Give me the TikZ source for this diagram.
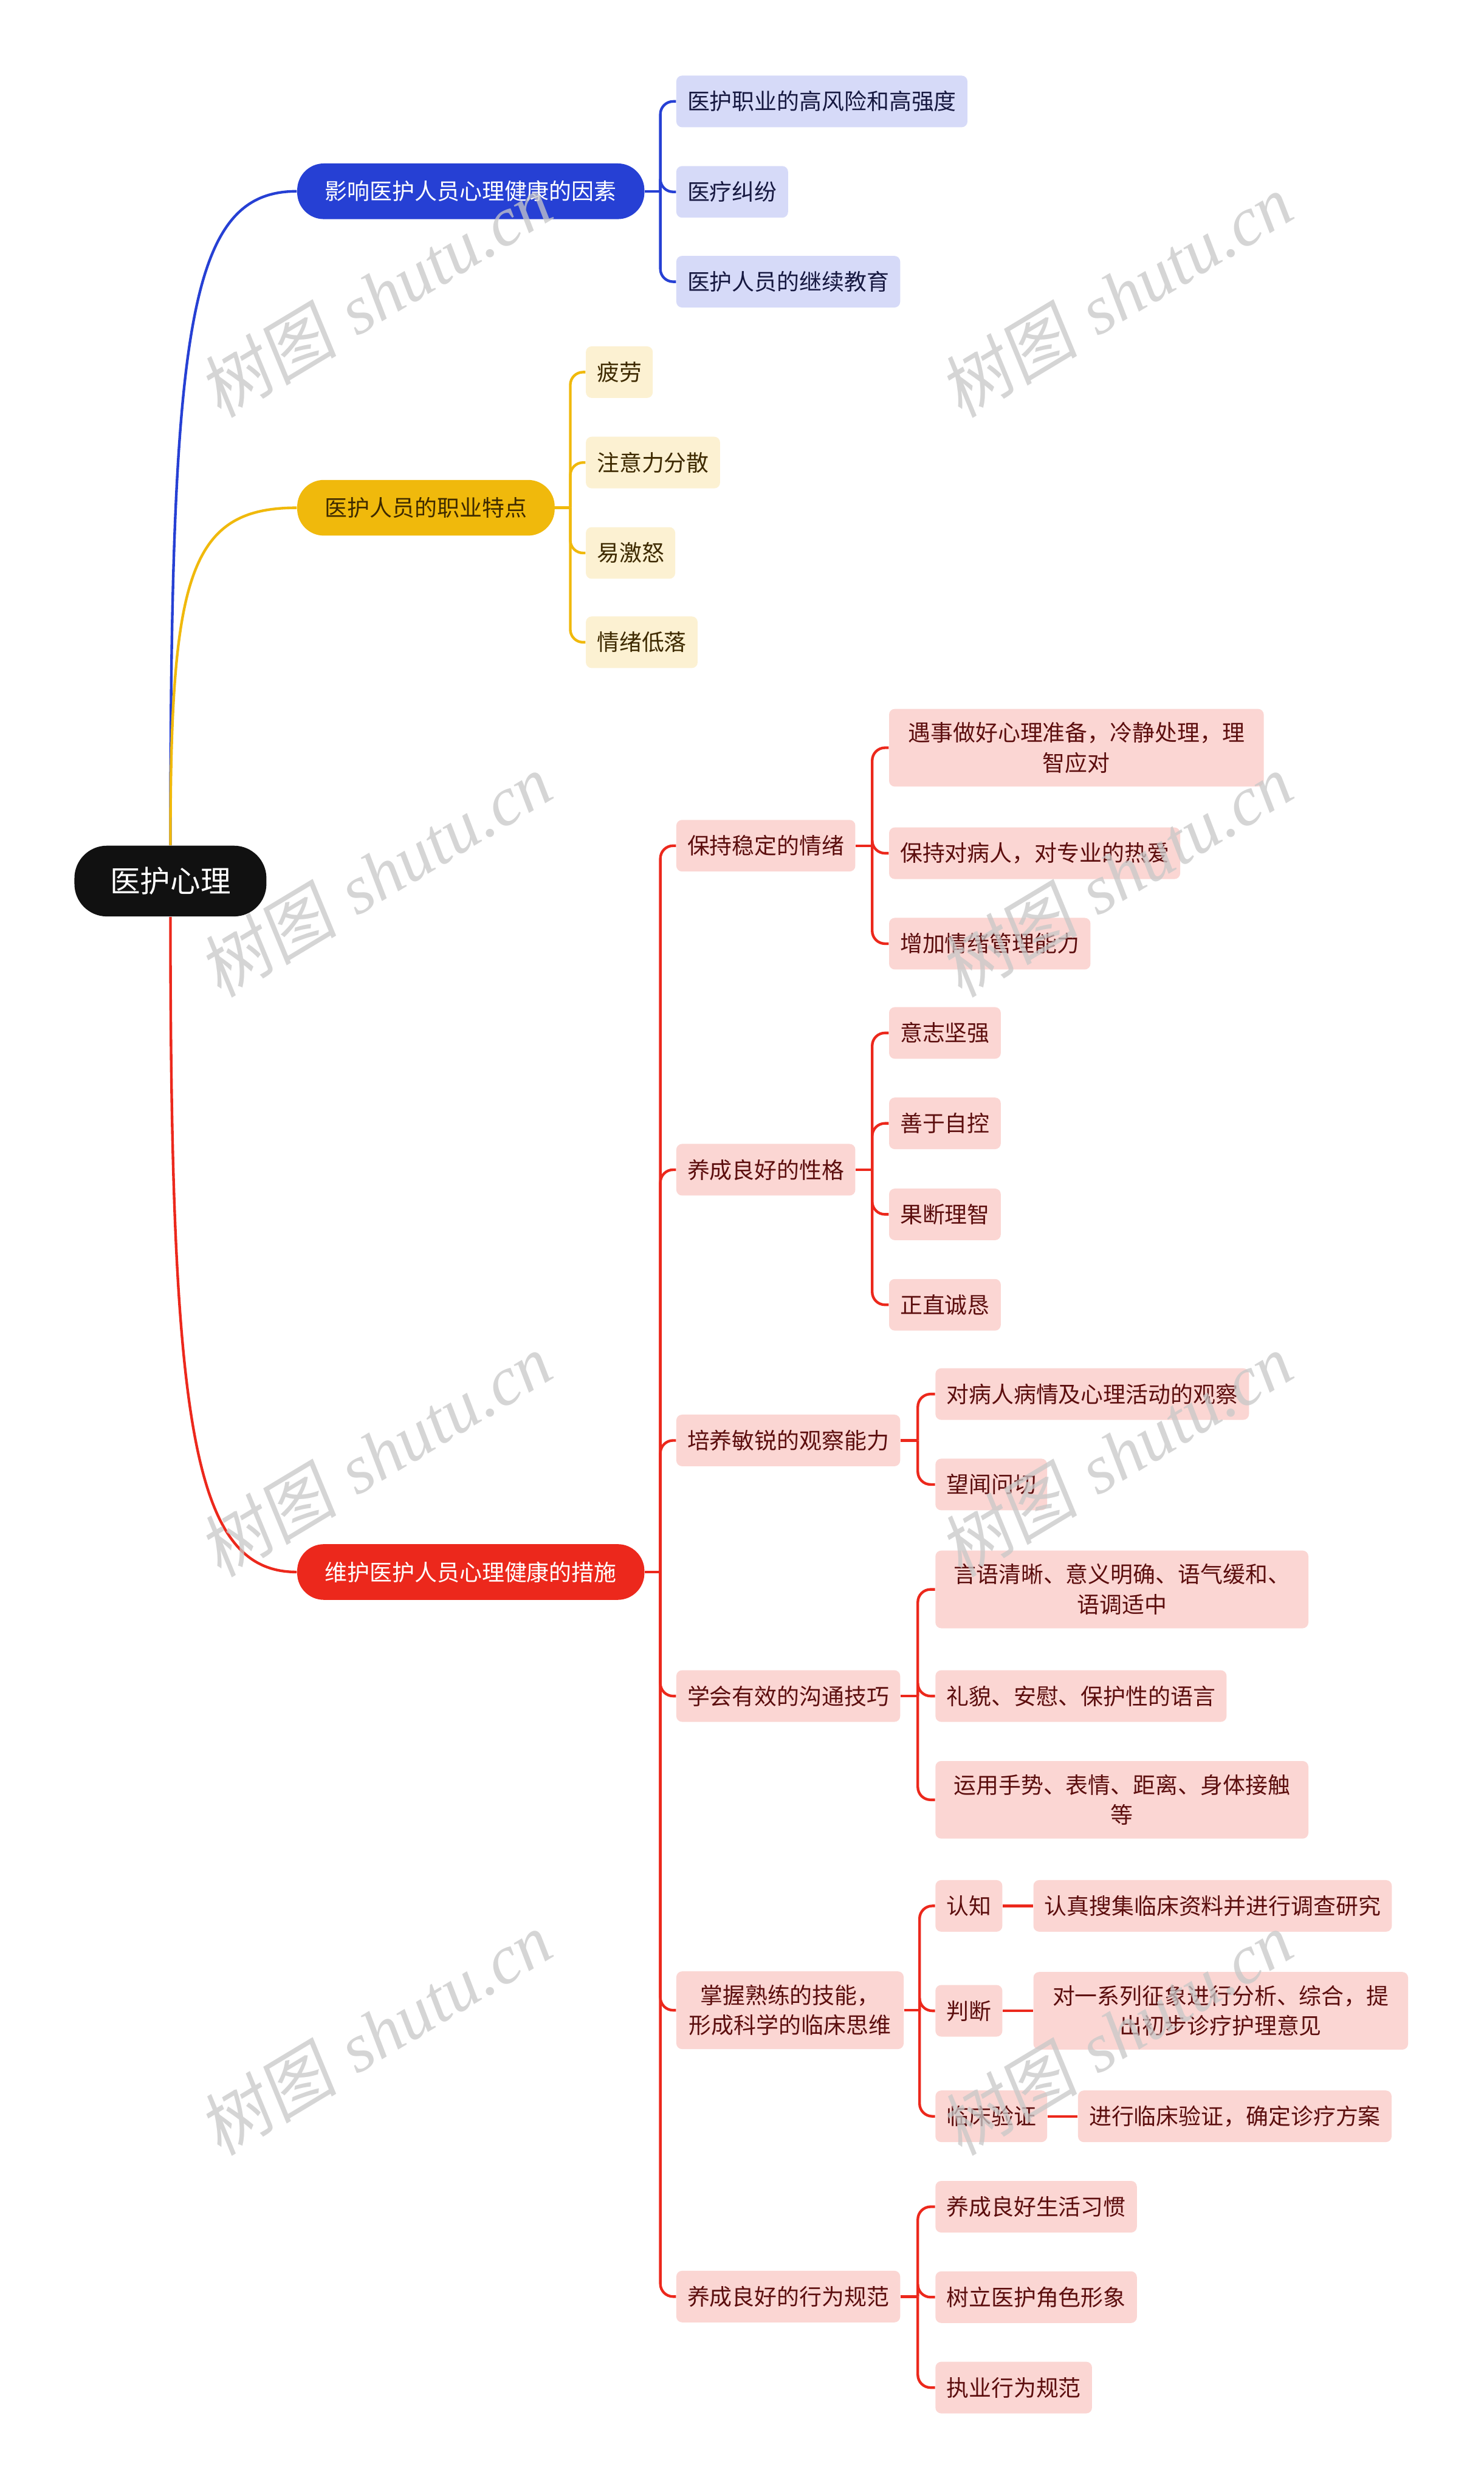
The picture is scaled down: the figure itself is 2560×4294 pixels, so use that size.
\documentclass[tikz,border=0pt]{standalone}
\usepackage{fontspec}
\newfontfamily\cjk{Noto Sans CJK SC}
\newfontfamily\wmcjk[FakeSlant=0.15]{Noto Sans CJK SC}
\newfontfamily\wmlat{Liberation Serif}
\usetikzlibrary{calc}
\definecolor{blueM}{RGB}{38,64,212}
\definecolor{blueF}{RGB}{214,218,248}
\definecolor{blueT}{RGB}{22,24,64}
\definecolor{yelM}{RGB}{240,185,12}
\definecolor{yelF}{RGB}{252,241,210}
\definecolor{yelT}{RGB}{62,42,0}
\definecolor{redM}{RGB}{236,40,28}
\definecolor{redF}{RGB}{251,214,211}
\definecolor{redT}{RGB}{92,14,14}
\definecolor{rootF}{RGB}{17,17,17}
\definecolor{wmgray}{RGB}{200,200,200}
\newcommand\mmlink[3]{%
  \draw[#1] (#2.east) -- ($(#2.east)!0.5!(#2.east -| #3.west)$);
  \draw[#1, rounded corners=0.22cm] ($(#2.east)!0.5!(#2.east -| #3.west)$) |- (#3.west);}
\begin{document}
\begin{tikzpicture}[x=0.01cm,y=-0.01cm,
  mmbase/.style={font=\cjk\fontsize{11pt}{14.8pt}\selectfont, inner xsep=0.19cm, inner ysep=0.23cm,
    minimum height=0.89cm, rounded corners=0.1cm, anchor=west, align=center},
  cblue/.style={mmbase, fill=blueF, text=blueT},
  cyel/.style={mmbase, fill=yelF, text=yelT},
  cred/.style={mmbase, fill=redF, text=redT},
  lone/.style={mmbase, inner xsep=0.48cm, minimum height=0.96cm, rounded corners=0.46cm},
  l1blue/.style={lone, fill=blueM, text=white},
  l1yel/.style={lone, fill=yelM, text=yelT},
  l1red/.style={lone, fill=redM, text=white},
  rootn/.style={font=\cjk\fontsize{14.8pt}{18pt}\selectfont, fill=rootF, text=white,
    minimum width=3.31cm, minimum height=1.22cm, rounded corners=0.56cm},
  blueL/.style={draw=blueM, line width=1.3pt},
  yelL/.style={draw=yelM, line width=1.3pt},
  redL/.style={draw=redM, line width=1.3pt},
  wm/.style={text=wmgray, opacity=0.75, rotate=31, font=\fontsize{34pt}{34pt}\selectfont}]
\useasboundingbox[fill=white] (0,0) rectangle (2560,4294);

% nodes
\node[rootn] (root) at (294,1520) {医护心理};
\node[l1blue] (B0) at (512,330) {影响医护人员心理健康的因素};
\node[cblue] (B1) at (1166,175) {医护职业的高风险和高强度};
\node[cblue] (B2) at (1166,331) {医疗纠纷};
\node[cblue] (B3) at (1166,486) {医护人员的继续教育};
\node[l1yel] (Y0) at (512,876) {医护人员的职业特点};
\node[cyel] (Y1) at (1010,642) {疲劳};
\node[cyel] (Y2) at (1010,798) {注意力分散};
\node[cyel] (Y3) at (1010,954) {易激怒};
\node[cyel] (Y4) at (1010,1108) {情绪低落};
\node[l1red] (R0) at (512,2712) {维护医护人员心理健康的措施};
\node[cred] (R1) at (1166,1459) {保持稳定的情绪};
\node[cred, text width=6.08cm] (R11) at (1533,1290) {遇事做好心理准备，冷静处理，理\\智应对};
\node[cred] (R12) at (1533,1472) {保持对病人，对专业的热爱};
\node[cred] (R13) at (1533,1628) {增加情绪管理能力};
\node[cred] (R2) at (1166,2018) {养成良好的性格};
\node[cred] (R21) at (1533,1782) {意志坚强};
\node[cred] (R22) at (1533,1938) {善于自控};
\node[cred] (R23) at (1533,2095) {果断理智};
\node[cred] (R24) at (1533,2251) {正直诚恳};
\node[cred] (R3) at (1166,2485) {培养敏锐的观察能力};
\node[cred] (R31) at (1613,2405) {对病人病情及心理活动的观察};
\node[cred] (R32) at (1613,2561) {望闻问切};
\node[cred] (R4) at (1166,2926) {学会有效的沟通技巧};
\node[cred, text width=6.05cm] (R41) at (1613,2742) {言语清晰、意义明确、语气缓和、\\语调适中};
\node[cred] (R42) at (1613,2926) {礼貌、安慰、保护性的语言};
\node[cred, text width=6.05cm] (R43) at (1613,3105) {运用手势、表情、距离、身体接触\\等};
\node[cred, text width=3.54cm] (R5) at (1166,3468) {掌握熟练的技能，\\形成科学的临床思维};
\node[cred] (R51) at (1613,3288) {认知};
\node[cred] (R511) at (1782,3288) {认真搜集临床资料并进行调查研究};
\node[cred] (R52) at (1613,3469) {判断};
\node[cred, text width=6.08cm] (R521) at (1782,3469) {对一系列征象进行分析、综合，提\\出初步诊疗护理意见};
\node[cred] (R53) at (1613,3651) {临床验证};
\node[cred] (R531) at (1859,3651) {进行临床验证，确定诊疗方案};
\node[cred] (R6) at (1166,3962) {养成良好的行为规范};
\node[cred] (R61) at (1613,3807) {养成良好生活习惯};
\node[cred] (R62) at (1613,3963) {树立医护角色形象};
\node[cred] (R63) at (1613,4119) {执业行为规范};

% root connectors
\draw[blueL] (root.north) .. controls ($(root.north |- B0.west)!0.2!(root.north)$) and ($(B0.west)!0.85!(root.north |- B0.west)$) .. (B0.west);
\draw[yelL] (root.north) .. controls ($(root.north |- Y0.west)!0.2!(root.north)$) and ($(Y0.west)!0.85!(root.north |- Y0.west)$) .. (Y0.west);
\draw[redL] (root.south) .. controls ($(root.south |- R0.west)!0.22!(root.south)$) and ($(R0.west)!0.82!(root.south |- R0.west)$) .. (R0.west);

% branch connectors
\mmlink{blueL}{B0}{B1}\mmlink{blueL}{B0}{B2}\mmlink{blueL}{B0}{B3}
\mmlink{yelL}{Y0}{Y1}\mmlink{yelL}{Y0}{Y2}\mmlink{yelL}{Y0}{Y3}\mmlink{yelL}{Y0}{Y4}
\mmlink{redL}{R0}{R1}\mmlink{redL}{R0}{R2}\mmlink{redL}{R0}{R3}
\mmlink{redL}{R0}{R4}\mmlink{redL}{R0}{R5}\mmlink{redL}{R0}{R6}
\mmlink{redL}{R1}{R11}\mmlink{redL}{R1}{R12}\mmlink{redL}{R1}{R13}
\mmlink{redL}{R2}{R21}\mmlink{redL}{R2}{R22}\mmlink{redL}{R2}{R23}\mmlink{redL}{R2}{R24}
\mmlink{redL}{R3}{R31}\mmlink{redL}{R3}{R32}
\mmlink{redL}{R4}{R41}\mmlink{redL}{R4}{R42}\mmlink{redL}{R4}{R43}
\mmlink{redL}{R5}{R51}\mmlink{redL}{R5}{R52}\mmlink{redL}{R5}{R53}
\mmlink{redL}{R6}{R61}\mmlink{redL}{R6}{R62}\mmlink{redL}{R6}{R63}
\draw[redL] (R51.east) -- (R511.west);
\draw[redL] (R52.east) -- (R52.east -| R521.west);
\draw[redL] (R53.east) -- (R531.west);

% watermarks
\node[wm] (wm1) at (647,510) {{\wmcjk 树图} {\wmlat\itshape shutu.cn}};
\node[wm] (wm2) at (1925,510) {{\wmcjk 树图} {\wmlat\itshape shutu.cn}};
\node[wm] (wm3) at (647,1510) {{\wmcjk 树图} {\wmlat\itshape shutu.cn}};
\node[wm] (wm4) at (1925,1510) {{\wmcjk 树图} {\wmlat\itshape shutu.cn}};
\node[wm] (wm5) at (647,2510) {{\wmcjk 树图} {\wmlat\itshape shutu.cn}};
\node[wm] (wm6) at (1925,2510) {{\wmcjk 树图} {\wmlat\itshape shutu.cn}};
\node[wm] (wm7) at (647,3508) {{\wmcjk 树图} {\wmlat\itshape shutu.cn}};
\node[wm] (wm8) at (1925,3508) {{\wmcjk 树图} {\wmlat\itshape shutu.cn}};
\end{tikzpicture}
\end{document}
